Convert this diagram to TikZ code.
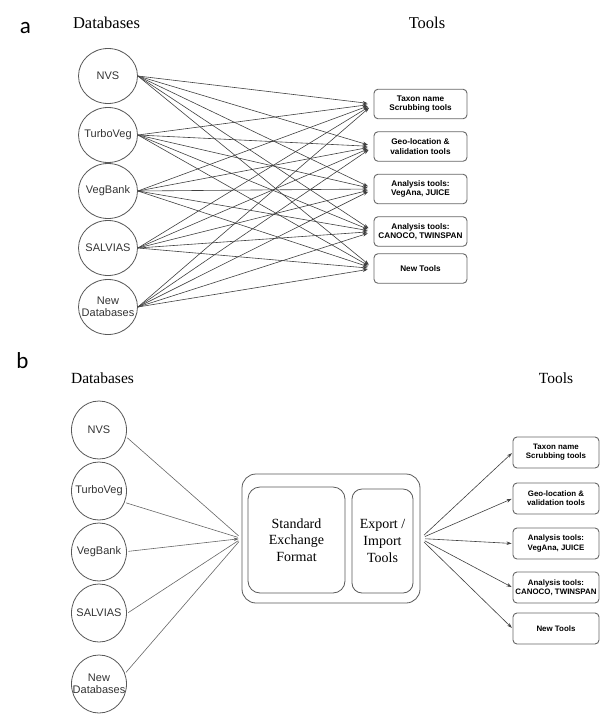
\documentclass[tikz,border=0pt]{standalone}
\usepackage{fontspec}
\setmainfont{Liberation Serif}
\newfontfamily\arialf{Liberation Sans}
\newfontfamily\calib{Carlito}
\usetikzlibrary{shapes.geometric,arrows.meta,calc}
\begin{document}
\begin{tikzpicture}[x=1pt,y=-1pt,
  db/.style={ellipse, draw=black!65, line width=0.8pt, inner sep=0pt},
  dba/.style={db, minimum width=59pt, minimum height=55pt},
  dbb/.style={db, minimum width=55pt, minimum height=58pt},
  lbl/.style={inner sep=0pt, align=center, text=black!80, font=\arialf\fontsize{11}{12.5}\selectfont},
  tool/.style={draw=black!60, line width=0.9pt, rounded corners=4pt, align=center, inner sep=0pt},
  toola/.style={tool, minimum width=93pt, minimum height=29.5pt, font=\arialf\bfseries\fontsize{8.2}{9.5}\selectfont},
  toolb/.style={tool, minimum width=86pt, minimum height=31pt, font=\arialf\bfseries\fontsize{7.9}{9.2}\selectfont},
  conn/.style={draw=black!75, line width=0.6pt, -{Stealth[length=5pt,width=3.5pt]}},
  plainconn/.style={draw=black!60, line width=0.6pt},
  head/.style={anchor=base, inner sep=0pt, font=\fontsize{16.5}{18}\selectfont},
  headb/.style={anchor=base, inner sep=0pt, font=\fontsize{15.5}{17}\selectfont},
  panel/.style={anchor=base, inner sep=0pt, font=\calib\fontsize{23}{25}\selectfont},
  midbox/.style={draw=black!65, line width=0.8pt, align=center, inner sep=0pt, font=\fontsize{14}{16.7}\selectfont}
]
\useasboundingbox (0,0) rectangle (600,716);

% ---------- panel a ----------
\node[panel] (pa) at (25.5,33) {a};
\node[head] (dbha) at (106.5,28) {Databases};
\node[head] (tlha) at (427,28.5) {Tools};

\node[dba, label={[lbl]center:NVS}] (nvsA) at (108,76) {};
\node[dba, label={[lbl]center:TurboVeg}] (turA) at (108,135) {};
\node[dba, label={[lbl]center:VegBank}] (vegA) at (108,191) {};
\node[dba, label={[lbl]center:SALVIAS}] (salA) at (108,248) {};
\node[dba, label={[lbl]center:New\\Databases}] (newA) at (108,307) {};

\node[toola] (ta1) at (420.5,104) {Taxon name\\Scrubbing tools};
\node[toola] (ta2) at (420.5,146.5) {Geo-location \&\\validation tools};
\node[toola] (ta3) at (420.5,189) {Analysis tools:\\VegAna, JUICE};
\node[toola] (ta4) at (420.5,231.5) {Analysis tools:\\CANOCO, TWINSPAN};
\node[toola] (ta5) at (420.5,268.5) {New Tools};

\foreach \d in {nvsA,turA,vegA,salA,newA}{
  \foreach \t in {ta1,ta2,ta3,ta4,ta5}{
    \draw[conn, shorten >=6pt] (\d.east) -- (\t.west);
  }
}

% ---------- panel b ----------
\node[panel] (pb) at (22.5,368) {b};
\node[headb] (dbhb) at (102.5,383) {Databases};
\node[headb] (tlhb) at (556,383) {Tools};

\node[dbb, label={[lbl]center:NVS}] (nvsB) at (99,430) {};
\node[dbb, label={[lbl]center:TurboVeg}] (turB) at (99,491) {};
\node[dbb, label={[lbl]center:VegBank}] (vegB) at (99,552) {};
\node[dbb, label={[lbl]center:SALVIAS}] (salB) at (99,613) {};
\node[dbb, label={[lbl]center:New\\Databases}] (newB) at (99,684) {};

\node[draw=black!65, line width=0.8pt, rounded corners=14pt, minimum width=178pt, minimum height=129pt, inner sep=0pt] (outer) at (331,538.5) {};
\node[midbox, rounded corners=12pt, minimum width=97pt, minimum height=106pt] (sef) at (296.5,540) {Standard\\Exchange\\Format};
\node[midbox, rounded corners=10pt, minimum width=61pt, minimum height=104pt] (eit) at (382.5,541) {Export /\\Import\\Tools};

\foreach \d/\a in {nvsB/-14,turB/-24,salB/-1,newB/22}{
  \draw[plainconn, shorten <=1.5pt, shorten >=4pt] (\d.\a) -- (outer.west);
}
\draw[plainconn, -{Stealth[length=5pt,width=3.5pt]}, shorten <=1.5pt, shorten >=3pt] (vegB.1) -- (outer.west);

\node[toolb] (tb1) at (556,452.5) {Taxon name\\Scrubbing tools};
\node[toolb] (tb2) at (556,498.5) {Geo-location \&\\validation tools};
\node[toolb] (tb3) at (556,543.5) {Analysis tools:\\VegAna, JUICE};
\node[toolb] (tb4) at (556,587.5) {Analysis tools:\\CANOCO, TWINSPAN};
\node[toolb] (tb5) at (556,628.5) {New Tools};

\foreach \t in {tb1,tb2,tb3,tb4,tb5}{
  \draw[conn, shorten <=5pt, shorten >=1pt] (outer.east) -- (\t.west);
}
\end{tikzpicture}
\end{document}
